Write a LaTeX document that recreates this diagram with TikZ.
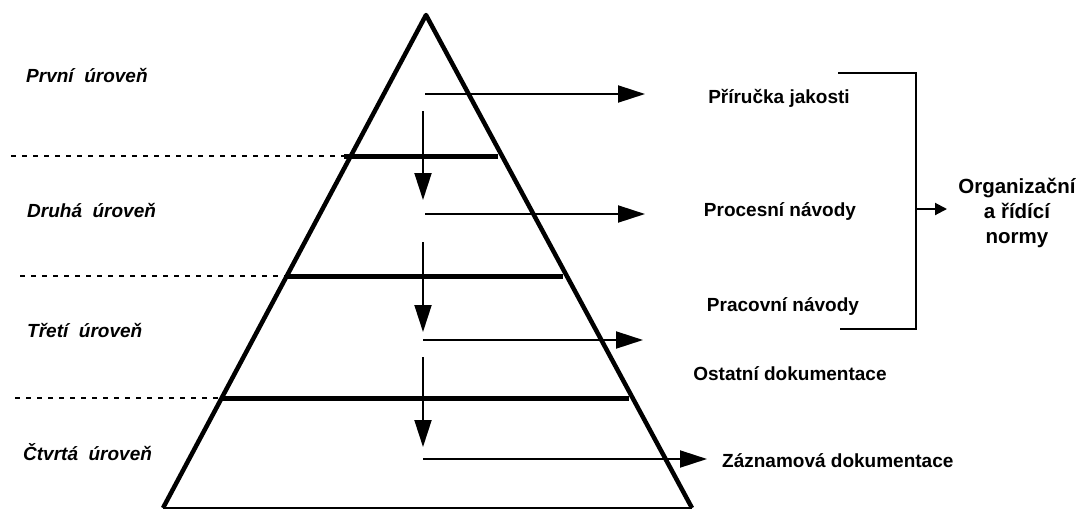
\documentclass[tikz,border=0pt]{standalone}
\usepackage{fontspec}
\setmainfont{Liberation Sans}
\usetikzlibrary{arrows.meta}
\begin{document}
\begin{tikzpicture}[x=1pt,y=-1pt,
  side/.style={line width=4.5pt, line join=round},
  levelbar/.style={line width=5pt},
  guide/.style={line width=2.2pt, dash pattern=on 5pt off 6pt},
  flow/.style={line width=2pt, -{Triangle[length=27pt,width=17pt]}},
  small flow/.style={line width=2pt, -{Triangle[length=12pt,width=12pt]}},
  doc/.style={font=\bfseries\fontsize{19}{23}\selectfont, inner sep=0pt, anchor=base},
  norm/.style={font=\bfseries\fontsize{20.5}{24}\selectfont, inner sep=0pt, anchor=base},
  level/.style={font=\bfseries\itshape\fontsize{19}{23}\selectfont, inner sep=0pt, anchor=base west},
]
\useasboundingbox (0,0) rectangle (1079,509);

% pyramid outline
\coordinate (apex) at (426,15);
\coordinate (bl) at (163,508);
\coordinate (br) at (692,508);
\draw[side] (bl) -- (apex) -- (br);
\draw[line width=1.5pt] (bl) -- (br);

% level separators and dashed guides
\coordinate (g1) at (11,156);  \coordinate (b1l) at (344,156); \coordinate (b1r) at (498,156);
\coordinate (g2) at (20,276);  \coordinate (b2l) at (285,276); \coordinate (b2r) at (563,276);
\coordinate (g3) at (15,398);  \coordinate (b3l) at (220,398); \coordinate (b3r) at (629,398);
\draw[guide] (g1) -- (b1l);
\draw[guide] (g2) -- (b2l);
\draw[guide] (g3) -- (b3l);
\draw[levelbar] (b1l) -- (b1r);
\draw[levelbar] (b2l) -- (b2r);
\draw[levelbar] (b3l) -- (b3r);

% downward flow between levels
\coordinate (v1s) at (423,111); \coordinate (v1e) at (423,200);
\coordinate (v2s) at (423,242); \coordinate (v2e) at (423,332);
\coordinate (v3s) at (423,357); \coordinate (v3e) at (423,447);
\draw[flow] (v1s) -- (v1e);
\draw[flow] (v2s) -- (v2e);
\draw[flow] (v3s) -- (v3e);

% outputs of each level
\coordinate (h1s) at (425,94);  \coordinate (h1e) at (645,94);
\coordinate (h2s) at (425,214); \coordinate (h2e) at (645,214);
\coordinate (h3s) at (423,340); \coordinate (h3e) at (643,340);
\coordinate (h4s) at (423,459); \coordinate (h4e) at (707,459);
\draw[flow] (h1s) -- (h1e);
\draw[flow] (h2s) -- (h2e);
\draw[flow] (h3s) -- (h3e);
\draw[flow] (h4s) -- (h4e);

% level names
\node[level] (l1) at (26,82)  {První\ \ úroveň};
\node[level] (l2) at (27,217) {Druhá\ \ úroveň};
\node[level] (l3) at (27,337) {Třetí\ \ úroveň};
\node[level] (l4) at (23,460) {Čtvrtá\ \ úroveň};

% documents
\node[doc] (d1) at (779,103) {Příručka jakosti};
\node[doc] (d2) at (780,216) {Procesní návody};
\node[doc] (d3) at (783,311) {Pracovní návody};
\node[doc] (d4) at (790,380) {Ostatní dokumentace};
\node[doc, anchor=base west] (d5) at (722,467) {Záznamová dokumentace};

% bracket grouping the first three documents
\coordinate (kt) at (838,73);
\coordinate (kb) at (840,329);
\coordinate (km) at (916,209);
\coordinate (ke) at (947,209);
\draw[line width=2pt] (kt) -- (916,73) -- (916,329) -- (kb);
\draw[small flow] (km) -- (ke);

\node[norm] (o1) at (1017,193) {Organizační};
\node[norm] (o2) at (1017,218) {a řídící};
\node[norm] (o3) at (1017,243) {normy};
\end{tikzpicture}
\end{document}
